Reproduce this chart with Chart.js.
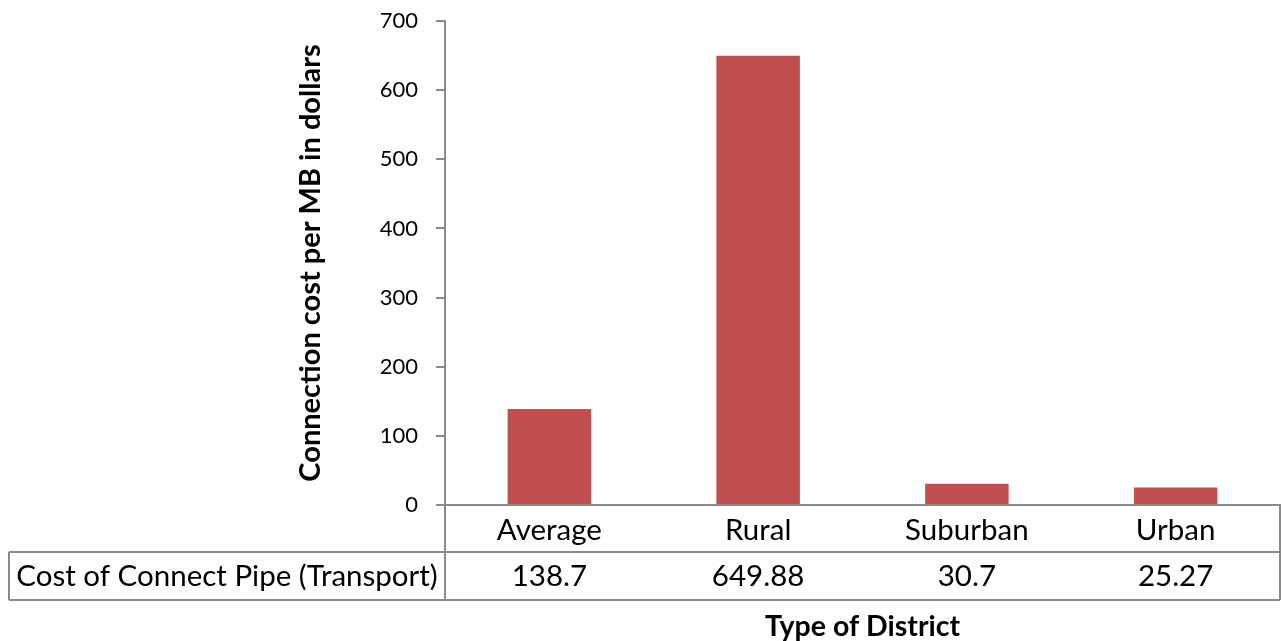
<!DOCTYPE html>
<html>
<head>
<meta charset="utf-8">
<title>Connection cost per MB by district type</title>
<script src="https://cdn.jsdelivr.net/npm/chart.js@4.4.1/dist/chart.umd.min.js"></script>
<style>
  html, body { margin: 0; padding: 0; background: #fff; }
  canvas { display: block; }
</style>
</head>
<body>
<canvas id="myChart" width="1281" height="641"></canvas>
<script>
var districts = ["Average", "Rural", "Suburban", "Urban"];
var pipeCost = [138.7, 649.88, 30.7, 25.27];
var seriesName = "Cost of Connect Pipe (Transport)";
var yTicks = [0, 100, 200, 300, 400, 500, 600, 700];

var lineGray = '#8a8a8a';
var fontFamily = 'Lato, "Open Sans", sans-serif';

// data table under the x axis: header row holds category names, second row the values
var dataTable = {
    id: 'dataTable',
    afterDraw: function (chart) {
        var ctx = chart.ctx;
        var area = chart.chartArea;
        var x = chart.scales.x;
        var headTop = area.bottom;
        var rowTop = headTop + 47;
        var rowBottom = rowTop + 48;
        var labelLeft = 9;

        ctx.save();
        ctx.strokeStyle = lineGray;
        ctx.lineWidth = 2;
        ctx.beginPath();
        ctx.moveTo(labelLeft, rowTop); ctx.lineTo(area.right, rowTop);
        ctx.moveTo(labelLeft, rowBottom); ctx.lineTo(area.right, rowBottom);
        ctx.moveTo(labelLeft, rowTop); ctx.lineTo(labelLeft, rowBottom);
        ctx.moveTo(area.left, headTop); ctx.lineTo(area.left, rowBottom);
        ctx.moveTo(area.right, headTop); ctx.lineTo(area.right, rowBottom);
        ctx.stroke();

        ctx.fillStyle = '#000';
        ctx.font = '29.5px ' + fontFamily;
        ctx.textAlign = 'center';
        ctx.textBaseline = 'alphabetic';
        ctx.fillText(seriesName, (labelLeft + area.left) / 2, rowTop + 34);
        chart.data.datasets[0].data.forEach(function (v, i) {
            ctx.fillText(String(v), x.getPixelForValue(i), rowTop + 34);
        });
        ctx.restore();
    }
};

var ctx = document.getElementById("myChart");
var myChart = new Chart(ctx, {
    type: 'bar',
    data: {
        labels: districts,
        datasets: [{
            label: seriesName,
            data: pipeCost,
            backgroundColor: '#C0504D',
            borderWidth: 0,
            categoryPercentage: 1.0,
            barPercentage: 0.4
        }]
    },
    options: {
        responsive: false,
        animation: false,
        devicePixelRatio: 1,
        layout: { padding: { top: 21, right: 1, left: 0, bottom: 0 } },
        plugins: {
            legend: { display: false },
            tooltip: { enabled: false }
        },
        scales: {
            x: {
                grid: { display: false },
                border: { display: true, color: lineGray, width: 2 },
                ticks: {
                    color: '#000',
                    font: { family: fontFamily, size: 29.5 },
                    padding: 0
                },
                title: {
                    display: true,
                    text: 'Type of District',
                    color: '#000',
                    font: { family: fontFamily, size: 28.5, weight: 'bold', lineHeight: 1 },
                    padding: 0
                },
                afterFit: function (scale) { scale.height = 136; }
            },
            y: {
                min: 0,
                max: 700,
                afterBuildTicks: function (scale) {
                    scale.ticks = yTicks.map(function (v) { return { value: v }; });
                },
                grid: {
                    drawOnChartArea: false,
                    color: lineGray,
                    lineWidth: 2,
                    tickLength: 9
                },
                border: { color: lineGray, width: 2 },
                ticks: {
                    color: '#000',
                    font: { family: fontFamily, size: 22 },
                    padding: 18
                },
                title: {
                    display: true,
                    text: 'Connection cost per MB in dollars',
                    color: '#000',
                    font: { family: fontFamily, size: 29, weight: 'bold', lineHeight: 1 },
                    padding: { top: 296, bottom: 0 }
                },
                afterFit: function (scale) {
                    scale.width = 445;
                    // the tick padding should not push the top of the plot down
                    scale.paddingTop = 0;
                    scale.paddingBottom = 0;
                }
            }
        }
    },
    plugins: [dataTable]
});
</script>
</body>
</html>
